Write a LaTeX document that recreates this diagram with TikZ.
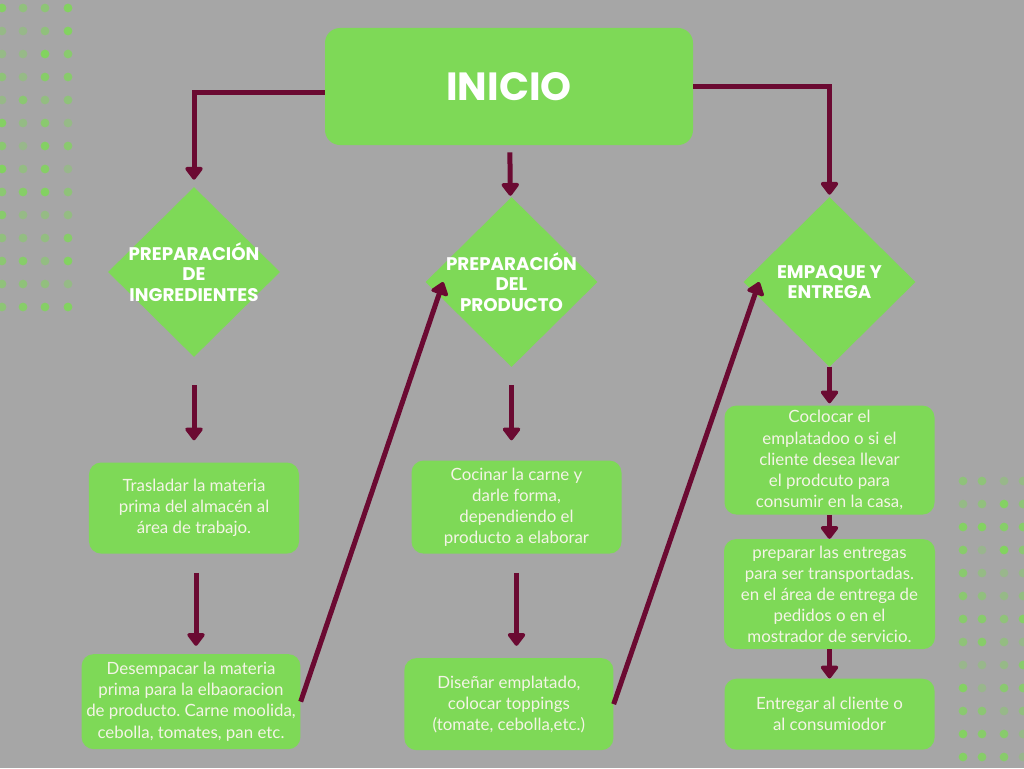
\documentclass[tikz,border=0pt]{standalone}
\usepackage{fontspec}
\setmainfont{Lato}
\newfontfamily\headfont{Poppins}
\usetikzlibrary{positioning, arrows.meta, shapes.geometric}
\definecolor{canvasgray}{HTML}{A6A6A6}
\definecolor{leafgreen}{HTML}{7ED957}
\definecolor{wine}{HTML}{6B0A32}
\definecolor{cream}{HTML}{F4F4E6}
\frenchspacing

\begin{document}
\begin{tikzpicture}[
        x=0.25mm, y=-0.25mm,
        >={Triangle[length=3.5mm, width=5mm, round]},
        every node/.style={align=center},
        startbox/.style={fill=leafgreen, rounded corners=3.75mm, minimum width=92mm, minimum height=29.25mm, text=white, font=\headfont\bfseries\fontsize{28}{32}\selectfont},
        phase/.style={diamond, fill=leafgreen, minimum width=43mm, minimum height=42.5mm, inner sep=0pt},
        phasetext/.style={text=white, font=\headfont\bfseries\fontsize{13}{14.6}\selectfont},
        taskbox/.style={fill=leafgreen, rounded corners=3mm, text=cream, minimum width=52.5mm, font=\fontsize{12}{15}\selectfont},
        line/.style={->, draw=wine, line width=1.25mm}
    ]
        % background and dotted patches
        \fill[canvasgray] (0,0) rectangle (1024,768);
        \useasboundingbox (0,0) rectangle (1024,768);
        \pgfmathsetseed{7}
        \foreach \cx in {2,23,45,68}
            \foreach \k in {0,...,13} {
                \pgfmathsetmacro\op{0.3+0.6*rnd}
                \fill[leafgreen, opacity=\op] (\cx,{8+23*\k}) circle (1.1mm);
            }
        \foreach \cx in {963,982,1004,1023}
            \foreach \k in {0,...,12} {
                \pgfmathsetmacro\op{0.3+0.6*rnd}
                \fill[leafgreen, opacity=\op] (\cx,{481+23*\k}) circle (1.1mm);
            }

        \node[startbox] (inicio) at (509,86.5) {INICIO};

        \node[phase, label={[phasetext]center:{PREPARACIÓN\\DE\\INGREDIENTES}}] (ingred) at (194,272) {};
        \node[phase, label={[phasetext]center:{PREPARACIÓN\\DEL\\PRODUCTO}}] (product) at (511.5,282) {};
        \node[phase, label={[phasetext]center:{EMPAQUE Y\\ENTREGA}}] (deliver) at (829.5,282) {};

        \node[taskbox, minimum height=22.75mm, below=26.25mm of ingred] (move) {Trasladar la materia\\prima del almacén al\\área de trabajo.};
        \node[taskbox, minimum width=53mm, minimum height=23.75mm, below=25mm of move, xshift=-0.75mm] (unpack) {Desempacar la materia\\prima para la elbaoracion\\de producto. Carne moolida,\\cebolla, tomates, pan etc.};
        \node[taskbox, minimum height=23.25mm, below=23.25mm of product, xshift=1.25mm] (cook) {Cocinar la carne y\\darle forma,\\dependiendo el\\producto a elaborar};
        \node[taskbox, minimum width=52.25mm, minimum height=23mm, below=26mm of cook, xshift=-1.9mm] (plate) {Diseñar emplatado,\\colocar toppings\\(tomate, cebolla,etc.)};
        \node[taskbox, minimum height=27.25mm, below=9.5mm of deliver] (pack) {Coclocar el\\emplatadoo o si el\\cliente desea llevar\\el prodcuto para\\consumir en la casa,};
        \node[taskbox, minimum width=52.75mm, minimum height=27.5mm, below=6mm of pack] (ready) {preparar las entregas\\para ser transportadas.\\en el área de entrega de\\pedidos o en el\\mostrador de servicio.};
        \node[taskbox, minimum height=17.75mm, below=7.25mm of ready] (handover) {Entregar al cliente o\\al consumiodor};

        \draw[line, shorten >=1.75mm] ([yshift=-1.375mm]inicio.west) -| (ingred.north);
        \draw[line, shorten <=1.75mm, shorten >=0.5mm] (inicio) -- (product);
        \draw[line, shorten >=0.5mm] (inicio.east) -| (deliver.north);
        \draw[line, shorten <=7mm, shorten >=5.5mm] (ingred) -- (move);
        \draw[line, shorten <=4.75mm, shorten >=2mm] ([xshift=0.5mm]move.south) -- ([xshift=0.5mm]move.south |- unpack.north);
        \draw[line, shorten <=4.5mm, shorten >=5mm] (product.south) -- (product.south |- cook.north);
        \draw[line, shorten <=4.75mm, shorten >=3mm] (cook.south) -- (cook.south |- plate.north);
        \draw[line, shorten >=0.5mm] (deliver) -- (pack);
        \draw[line] (pack) -- (ready);
        \draw[line] (ready) -- (handover);
        \draw[line] (unpack.east) -- ([xshift=4.5mm]product.west);
        \draw[line] (plate.east) -- ([xshift=4mm]deliver.west);
    \end{tikzpicture}
\end{document}
